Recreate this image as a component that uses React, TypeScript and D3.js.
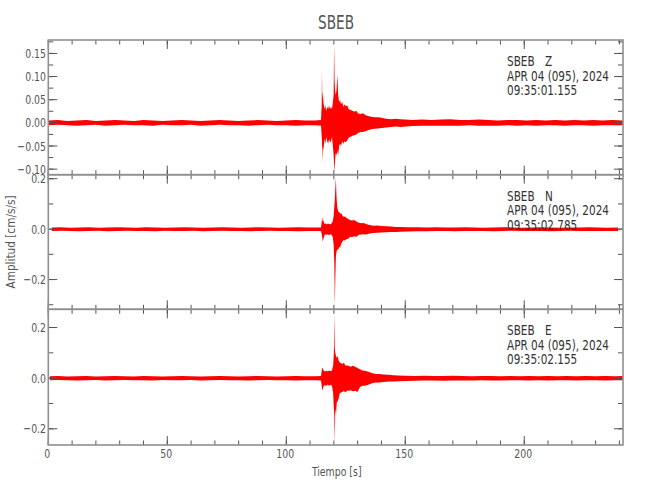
import React from 'react';
import * as d3 from 'd3';

type Env = [number, number, number][]; // [time s, max, min]

const titleText = 'SBEB';
const stationName = 'SBEB';
const componentNames = ['Z', 'N', 'E'];
const dateLine = 'APR 04 (095), 2024';
const startTimes = ['09:35:01.155', '09:35:02.785', '09:35:02.155'];
const xMajorTicks = [0, 50, 100, 150, 200];
const xMinorStep = 10;
const xDomain = [0, 241.5];
const yDomains = [[-0.112, 0.179], [-0.318, 0.216], [-0.264, 0.272]];
const yMajorTicks = [[-0.1, -0.05, 0, 0.05, 0.1, 0.15], [-0.2, 0, 0.2], [-0.2, 0, 0.2]];
const yMinorStep = [0.025, 0.1, 0.1];
const yTickFormats = ['.2f', '.1f', '.1f'];
const yLabel = 'Amplitud [cm/s/s]';
const xLabel = 'Tiempo [s]';

const zEnvelope: Env = [
  [0, .005, -.005], [4, .006, -.004], [8, .004, -.005], [12, .005, -.006], [16, .006, -.005], [20, .004, -.004],
  [24, .005, -.006], [28, .006, -.005], [32, .005, -.004], [36, .004, -.005], [40, .006, -.005], [44, .005, -.006],
  [48, .004, -.004], [52, .005, -.005], [56, .006, -.005], [60, .005, -.004], [64, .004, -.006], [68, .005, -.005],
  [72, .006, -.004], [76, .005, -.005], [80, .004, -.005], [84, .005, -.006], [88, .006, -.005], [92, .005, -.004],
  [96, .004, -.005], [100, .005, -.005], [104, .006, -.006], [108, .005, -.005], [112, .005, -.005],
  [114.6, .006, -.006], [114.9, .04, -.03], [115.0, .115, -.04], [115.15, .05, -.086], [115.35, .067, -.05],
  [115.6, .045, -.06], [116.0, .03, -.035], [116.4, .038, -.045], [116.8, .025, -.03], [117.2, .035, -.04],
  [117.6, .03, -.045], [118.0, .038, -.035], [118.4, .03, -.042], [118.8, .035, -.04], [119.2, .03, -.03],
  [119.6, .045, -.05], [119.9, .06, -.07], [120.1, .17, -.09], [120.3, .09, -.106], [120.5, .07, -.08],
  [120.8, .06, -.065], [121.1, .07, -.07], [121.5, .104, -.06], [121.8, .06, -.07], [122.2, .045, -.05],
  [122.6, .05, -.045], [123.0, .04, -.05], [123.5, .045, -.04], [124.0, .035, -.045], [124.5, .04, -.04],
  [125.0, .036, -.042], [125.6, .038, -.038], [126.2, .03, -.032], [127.0, .028, -.03], [127.8, .026, -.028],
  [128.6, .024, -.027], [129.4, .026, -.025], [130.2, .02, -.022], [131.2, .019, -.02], [132.2, .021, -.02],
  [133.2, .017, -.018], [134.4, .015, -.016], [135.6, .013, -.014], [137, .012, -.013], [138.5, .012, -.012],
  [140, .011, -.011], [142, .009, -.01], [144, .008, -.009], [146, .009, -.008], [148, .008, -.009],
  [150, .007, -.008], [153, .006, -.007], [157, .007, -.006], [161, .006, -.006], [165, .007, -.006],
  [169, .008, -.006], [173, .006, -.006], [177, .006, -.005], [181, .007, -.006], [185, .006, -.006],
  [189, .005, -.006], [193, .006, -.005], [197, .006, -.006], [201, .005, -.005], [205, .006, -.006],
  [209, .005, -.005], [213, .006, -.005], [217, .005, -.006], [221, .006, -.005], [225, .005, -.005],
  [229, .006, -.006], [233, .005, -.005], [237, .006, -.005], [241.5, .005, -.005],
];

const nEnvelope: Env = [
  [1.5, .007, -.007], [5, .008, -.006], [9, .006, -.007], [13, .007, -.008], [17, .008, -.007], [21, .006, -.006],
  [25, .007, -.008], [29, .008, -.007], [33, .007, -.006], [37, .006, -.007], [41, .008, -.007], [45, .007, -.008],
  [49, .006, -.006], [53, .007, -.007], [57, .008, -.007], [61, .007, -.006], [65, .006, -.008], [69, .007, -.007],
  [73, .008, -.006], [77, .007, -.007], [81, .006, -.007], [85, .007, -.008], [89, .008, -.007], [93, .007, -.006],
  [97, .006, -.007], [101, .007, -.007], [105, .008, -.008], [109, .007, -.007], [112.5, .007, -.007],
  [114.6, .007, -.007], [114.9, .03, -.02], [115.1, .049, -.03], [115.3, .03, -.05], [115.6, .035, -.04],
  [116.0, .02, -.024], [116.5, .023, -.02], [117, .018, -.022], [117.5, .022, -.02], [118, .02, -.024],
  [118.5, .018, -.02], [119, .022, -.022], [119.5, .03, -.03], [119.9, .05, -.06], [120.2, .09, -.137],
  [120.4, .12, -.306], [120.6, .16, -.2], [120.85, .203, -.11], [121.1, .13, -.09], [121.4, .09, -.08],
  [121.8, .069, -.083], [122.2, .07, -.07], [122.6, .06, -.075], [123, .065, -.06], [123.5, .055, -.05],
  [124, .049, -.044], [124.6, .05, -.045], [125.2, .045, -.04], [126, .04, -.038], [126.8, .036, -.03],
  [127.6, .034, -.032], [128.5, .036, -.028], [129.5, .03, -.03], [130.5, .025, -.022], [131.5, .023, -.021],
  [132.5, .024, -.02], [133.5, .02, -.021], [135, .016, -.017], [136.5, .013, -.015], [138, .014, -.014],
  [140, .012, -.013], [142, .011, -.012], [144, .01, -.011], [146, .009, -.011], [148, .009, -.01],
  [151, .008, -.009], [155, .008, -.008], [159, .007, -.008], [163, .008, -.007], [167, .007, -.007],
  [171, .007, -.008], [175, .008, -.007], [179, .007, -.007], [183, .006, -.007], [187, .007, -.008],
  [191, .008, -.007], [195, .007, -.006], [199, .006, -.007], [203, .007, -.007], [207, .008, -.007],
  [211, .007, -.008], [215, .006, -.007], [219, .007, -.006], [223, .007, -.007], [227, .008, -.007],
  [231, .007, -.007], [235, .006, -.007], [239.4, .007, -.007],
];

const eEnvelope: Env = [
  [0.7, .008, -.008], [4, .009, -.007], [8, .007, -.008], [12, .008, -.009], [16, .009, -.008], [20, .007, -.007],
  [24, .008, -.009], [28, .009, -.008], [32, .008, -.007], [36, .007, -.008], [40, .009, -.008], [44, .008, -.009],
  [48, .007, -.007], [52, .008, -.008], [56, .009, -.008], [60, .008, -.007], [64, .007, -.009], [68, .008, -.008],
  [72, .009, -.007], [76, .008, -.008], [80, .007, -.008], [84, .008, -.009], [88, .009, -.008], [92, .008, -.007],
  [96, .007, -.008], [100, .008, -.008], [104, .009, -.009], [108, .008, -.008], [112, .008, -.008],
  [114.6, .009, -.009], [114.9, .03, -.03], [115.1, .042, -.05], [115.4, .035, -.04], [115.8, .03, -.03],
  [116.3, .025, -.028], [116.8, .03, -.03], [117.4, .026, -.025], [118, .03, -.03], [118.6, .028, -.026],
  [119.2, .03, -.03], [119.7, .05, -.06], [120.0, .1, -.12], [120.2, .254, -.15], [120.35, .12, -.255],
  [120.6, .1, -.12], [120.9, .088, -.143], [121.2, .08, -.097], [121.6, .088, -.09], [122.0, .07, -.08],
  [122.5, .062, -.06], [123, .06, -.057], [123.6, .055, -.055], [124.2, .062, -.05], [124.8, .05, -.057],
  [125.5, .05, -.05], [126.2, .049, -.05], [127, .045, -.048], [128, .049, -.052], [129, .045, -.05],
  [129.9, .04, -.055], [131, .035, -.035], [132, .03, -.03], [133, .029, -.03], [134.5, .025, -.026],
  [136, .02, -.02], [137.5, .016, -.017], [139, .016, -.017], [141, .014, -.015], [143, .013, -.013],
  [145, .012, -.013], [147, .011, -.012], [150, .01, -.011], [154, .009, -.01], [158, .01, -.009],
  [162, .009, -.009], [166, .009, -.01], [170, .01, -.009], [174, .009, -.009], [178, .008, -.009],
  [182, .009, -.008], [186, .009, -.009], [190, .008, -.009], [194, .009, -.008], [198, .008, -.008],
  [202, .009, -.009], [206, .008, -.008], [210, .009, -.009], [214, .008, -.008], [218, .009, -.008],
  [222, .008, -.009], [226, .009, -.008], [230, .008, -.008], [234, .009, -.009], [238, .008, -.008],
  [241.5, .009, -.008],
];

const envelopes = [zEnvelope, nEnvelope, eEnvelope];

const FONT = "'DejaVu Sans Condensed', 'DejaVu Sans', sans-serif";
const AXIS = '#8f8f8f';
const TICK = '#555';
const LABEL = '#555';

const panelTops = [40, 174.7, 309.3];
const panelBottoms = [174.7, 309.3, 445];
const left = 48.3;
const right = 623;

function range(a: number, b: number, step: number) {
  const out: number[] = [];
  const start = Math.ceil(a / step - 1e-9) * step;
  for (let v = start; v <= b + 1e-9; v += step) out.push(Math.round(v / step) * step);
  return out;
}

function T(props: { x: number; y: number; size: number; sx?: number; rot?: number; anchor?: string; fill?: string; children: React.ReactNode }) {
  const { x, y, size, sx = 0.8, rot = 0, anchor = 'start', fill = LABEL, children } = props;
  return (
    <text transform={`translate(${x},${y}) rotate(${rot}) scale(${sx},1)`} fontSize={size} fill={fill}
      textAnchor={anchor}>{children}</text>
  );
}

export default function App() {
  const x = d3.scaleLinear().domain(xDomain).range([left, right]);
  const xMinor = range(xDomain[0], xDomain[1], xMinorStep);

  return (
    <svg width={650} height={500} style={{ position: 'absolute', left: 0, top: 0, background: '#fff' }}
      fontFamily={FONT}>
      <text x={336} y={29} fontSize={20} fill={LABEL} textAnchor="middle" textLength={36}
        lengthAdjust="spacingAndGlyphs">{titleText}</text>
      {envelopes.map((env, i) => {
        const y = d3.scaleLinear().domain(yDomains[i]).range([panelBottoms[i], panelTops[i]]);
        const area = d3.area<[number, number, number]>()
          .x(d => x(d[0]))
          .y0(d => y(d[2]))
          .y1(d => y(d[1]));
        const fmt = d3.format(yTickFormats[i]);
        const minors = range(yDomains[i][0], yDomains[i][1], yMinorStep[i]);
        const top = panelTops[i];
        const bot = panelBottoms[i];
        return (
          <g key={i}>
            <path d={area(env) || ''} fill="#ff0000" stroke="none" />
            {minors.map(v => (
              <g key={'ym' + v}>
                <line x1={left} x2={left + 5} y1={y(v)} y2={y(v)} stroke={TICK} />
                <line x1={right} x2={right - 5} y1={y(v)} y2={y(v)} stroke={TICK} />
              </g>
            ))}
            {yMajorTicks[i].map(v => (
              <g key={'yM' + v}>
                <line x1={left} x2={left + 9} y1={y(v)} y2={y(v)} stroke={TICK} />
                <line x1={right} x2={right - 9} y1={y(v)} y2={y(v)} stroke={TICK} />
                <T x={46} y={y(v) + 4.5} size={13} anchor="end">{fmt(v).replace('-', '\u2212')}</T>
              </g>
            ))}
            {xMinor.map(v => (
              <g key={'xm' + v}>
                <line x1={x(v)} x2={x(v)} y1={top} y2={top + 4.5} stroke={TICK} />
                <line x1={x(v)} x2={x(v)} y1={bot} y2={bot - 4.5} stroke={TICK} />
              </g>
            ))}
            {xMajorTicks.map(v => (
              <g key={'xM' + v}>
                <line x1={x(v)} x2={x(v)} y1={top} y2={top + 9} stroke={TICK} />
                <line x1={x(v)} x2={x(v)} y1={bot} y2={bot - 9} stroke={TICK} />
              </g>
            ))}
            <rect x={left} y={top} width={right - left} height={bot - top} fill="none" stroke={AXIS}
              strokeWidth={1.6} />
            <T x={507} y={top + 26} size={14} sx={0.83} fill="#333">{stationName}</T>
            <T x={545} y={top + 26} size={14} sx={0.83} fill="#333">{componentNames[i]}</T>
            <T x={507} y={top + 40.5} size={14} sx={0.83} fill="#333">{dateLine}</T>
            <T x={507} y={top + 55} size={14} sx={0.83} fill="#333">{startTimes[i]}</T>
          </g>
        );
      })}
      {xMajorTicks.map(v => (
        <T key={'xl' + v} x={x(v) - 1} y={458} size={13} anchor="middle">{v}</T>
      ))}
      <T x={336.7} y={476} size={13} anchor="middle">{xLabel}</T>
      <T x={15} y={242} size={13} sx={0.9} rot={-90} anchor="middle">{yLabel}</T>
    </svg>
  );
}
